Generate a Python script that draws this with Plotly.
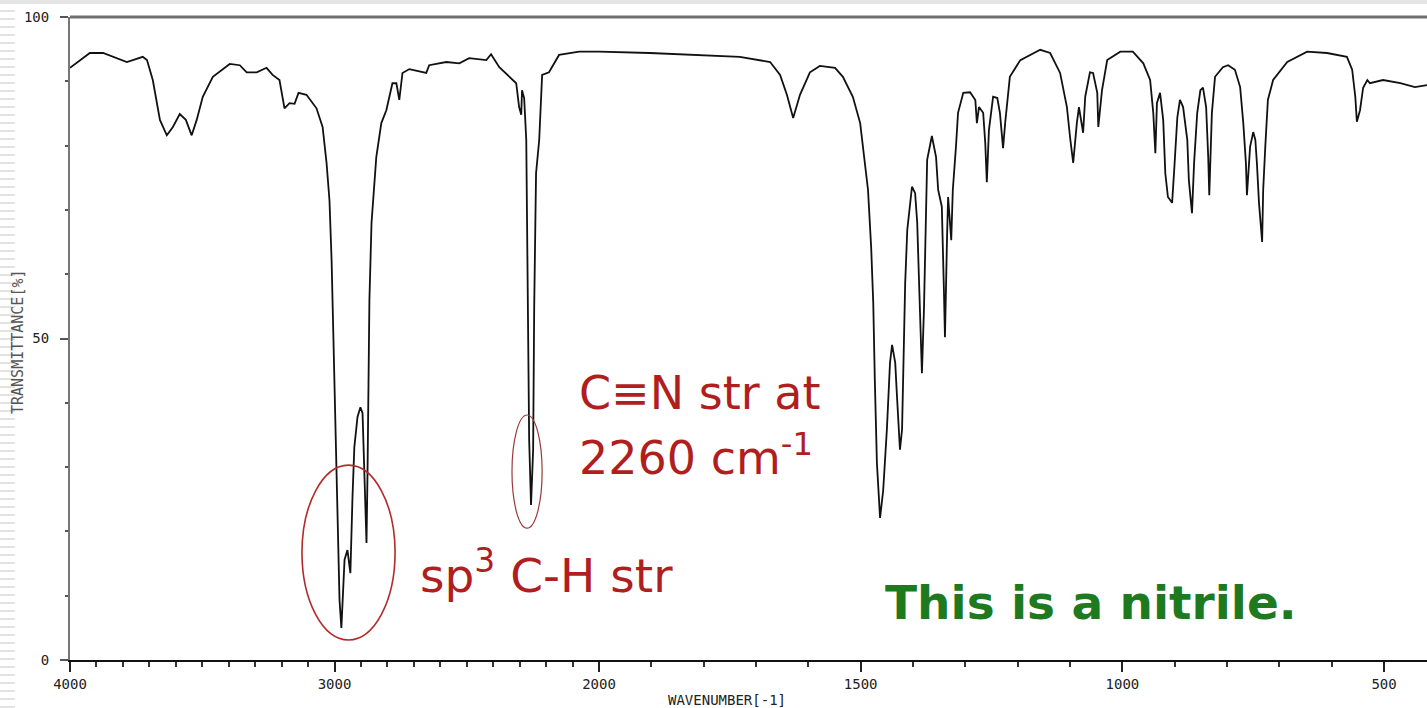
import plotly.graph_objects as go

# ---------------- data ----------------
wavenumber = [
    4000, 3925, 3875, 3785, 3725, 3709, 3687, 3660, 3634, 3611, 3585, 3562, 3540, 3521,
    3498, 3460, 3396, 3358, 3332, 3294, 3257, 3234, 3208, 3196, 3189, 3170, 3151, 3136,
    3106, 3068, 3045, 3030, 3019, 3011, 3004, 2996, 2989, 2981, 2974, 2970, 2962, 2951,
    2940, 2932, 2925, 2913, 2902, 2894, 2887, 2879, 2875, 2872, 2868, 2860, 2842, 2823,
    2804, 2781, 2766, 2755, 2743, 2717, 2653, 2642, 2577, 2528, 2491, 2426, 2408, 2377,
    2313, 2302, 2294, 2291, 2283, 2275, 2272, 2268, 2264, 2257, 2249, 2245, 2238, 2226,
    2215, 2189, 2151, 2075, 2000,
    1903, 1807, 1731, 1673, 1654, 1641, 1629, 1616, 1597, 1578, 1549, 1534, 1515, 1501,
    1492, 1486, 1480, 1476, 1473, 1469, 1463, 1457, 1450, 1444, 1440, 1434, 1431, 1425,
    1421, 1419, 1415, 1411, 1402, 1396, 1392, 1388, 1383, 1379, 1375, 1373, 1364, 1356,
    1352, 1345, 1341, 1339, 1335, 1333, 1327, 1324, 1318, 1314, 1304, 1291, 1281, 1278,
    1274, 1266, 1262, 1259, 1255, 1247, 1239, 1234, 1228, 1224, 1215, 1195, 1157, 1138,
    1119, 1106, 1100, 1094, 1087, 1083, 1075, 1071, 1062, 1056, 1048, 1046, 1039, 1029,
    1004, 980, 960, 947, 941, 937, 934, 928, 922, 918, 913, 905, 901, 895, 890, 884, 876,
    873, 867, 863, 857, 851, 846, 840, 836, 834, 829, 823, 808, 798, 785, 775, 769, 764,
    762, 756, 750, 746, 743, 739, 733, 731, 727, 722, 712, 685, 647, 609, 571, 561, 555,
    552, 546, 540, 532, 527, 502, 469, 441, 418,
]
transmittance = [
    92.1, 94.4, 94.4, 93.0, 93.8, 93.3, 90.2, 84.0, 81.6, 82.9, 84.9, 84.0, 81.6, 84.0,
    87.6, 90.7, 92.7, 92.5, 91.4, 91.4, 92.1, 91.0, 90.2, 87.6, 85.8, 86.6, 86.5, 88.2,
    87.9, 85.8, 82.9, 77.3, 71.5, 62.2, 49.8, 34.2, 21.8, 9.3, 5.0, 8.9, 15.6, 17.1,
    13.5, 25.3, 33.1, 37.8, 39.3, 38.4, 29.1, 18.2, 29.5, 43.5, 56.0, 68.0, 78.2, 83.5,
    85.5, 89.7, 89.7, 87.1, 91.3, 91.9, 91.3, 92.5, 93.0, 92.8, 93.6, 93.3, 94.2, 92.2,
    89.7, 86.0, 84.8, 88.6, 87.4, 80.9, 65.3, 51.3, 34.2, 24.1, 32.7, 54.9, 75.7, 80.9,
    91.0, 91.4, 94.1, 94.6, 94.6,
    94.4, 94.1, 93.8, 93.0, 91.0, 87.9, 84.3, 87.9, 91.4, 92.4, 92.1, 90.7, 87.6, 83.5,
    77.3, 73.1, 64.2, 55.5, 43.5, 30.6, 22.1, 26.4, 35.8, 46.2, 49.0, 46.2, 41.5, 32.7,
    35.8, 45.6, 58.6, 66.9, 73.6, 72.6, 68.0, 57.5, 44.6, 54.9, 69.5, 77.8, 81.5, 78.2,
    73.1, 70.5, 57.5, 50.2, 65.8, 72.0, 65.3, 73.1, 79.8, 85.1, 88.2, 88.3, 87.1, 83.5,
    86.0, 85.1, 80.4, 74.3, 82.4, 87.6, 87.4, 85.1, 79.6, 83.5, 90.7, 93.3, 94.9, 94.4,
    91.3, 86.0, 81.3, 77.3, 83.5, 86.0, 82.0, 87.6, 91.4, 91.3, 88.2, 82.9, 88.6, 93.3,
    94.6, 94.6, 92.8, 90.2, 85.1, 78.8, 86.6, 88.2, 84.0, 75.7, 72.0, 71.1, 76.2, 84.4,
    87.1, 86.0, 80.9, 74.6, 69.5, 77.3, 85.1, 88.6, 89.0, 86.0, 78.2, 72.3, 85.1, 90.7,
    92.2, 92.5, 91.8, 89.1, 83.5, 77.3, 72.3, 79.8, 82.1, 80.9, 77.3, 71.1, 65.0, 73.1,
    79.8, 87.1, 90.2, 93.0, 94.6, 94.4, 93.8, 91.8, 87.6, 83.7, 85.5, 89.0, 90.2, 89.7,
    90.2, 89.7, 89.1, 89.4,
]

left_range = [4000, 2000]
right_range = [2000, 418]
left_ticks = [4000, 3000]
left_ticktext = ["4000", "3000"]
right_ticks = [2000, 1500, 1000, 500]
right_ticktext = ["2000", "1500", "1000", "500"]
y_ticks = [0, 50, 100]
y_ticktext = ["0", "50", "100"]

# annotation positions (data units)
ch_ellipse = dict(x0=3123, x1=2771, y0=3.1, y1=30.3)
cn_ellipse = dict(x0=2329, x1=2215, y0=20.5, y1=38.1)

W, H = 1427, 708
ML, MR, MT, MB = 70, 0, 17, 48
PW = W - ML - MR
PH = H - MT - MB
split = (599 - ML) / PW

tick_font = dict(family="DejaVu Sans Mono", size=14, color="#222")

fig = go.Figure()
for xa in ["x", "x2"]:
    fig.add_trace(go.Scatter(
        x=wavenumber, y=transmittance, xaxis=xa, yaxis="y", mode="lines",
        line=dict(color="#111111", width=1.8), showlegend=False, hoverinfo="skip"))

common_x = dict(showline=True, linecolor="#111", linewidth=2, ticks="outside",
                ticklen=10, tickwidth=1.5, tickcolor="#222", showgrid=False,
                zeroline=False, anchor="y", tickfont=tick_font, fixedrange=True)

fig.update_layout(
    width=W, height=H,
    margin=dict(l=ML, r=MR, t=MT, b=MB, pad=0),
    paper_bgcolor="white", plot_bgcolor="white",
    xaxis=dict(domain=[0, split], range=left_range, tickmode="array",
               tickvals=left_ticks, ticktext=left_ticktext,
               minor=dict(dtick=100, tick0=0, ticks="outside", ticklen=5,
                          tickwidth=1.5, tickcolor="#333"),
               **common_x),
    xaxis2=dict(domain=[split, 1], range=right_range, tickmode="array",
                tickvals=right_ticks, ticktext=right_ticktext,
                minor=dict(dtick=100, tick0=0, ticks="outside", ticklen=5,
                           tickwidth=1.5, tickcolor="#333"),
                **common_x),
    yaxis=dict(range=[0, 100], domain=[0, 1], showline=True, linecolor="#777",
               linewidth=2, ticks="outside", ticklen=8, tickwidth=1.5,
               tickcolor="#555", tickmode="array", tickvals=y_ticks,
               ticktext=y_ticktext, ticklabelstandoff=8,
               minor=dict(dtick=10, tick0=0, ticks="outside", ticklen=3,
                          tickwidth=1.5, tickcolor="#555"),
               showgrid=False, zeroline=False, tickfont=tick_font,
               fixedrange=True),
)

shapes = []
# decorative slide background: stripes on the left edge and band on top
for py in range(3, H, 8):
    yp = (H - MB - py) / PH
    shapes.append(dict(type="line", xref="paper", yref="paper",
                       x0=(0 - ML) / PW, x1=(15 - ML) / PW, y0=yp, y1=yp,
                       line=dict(color="#e2e2e2", width=2), layer="below"))
shapes.append(dict(type="rect", xref="paper", yref="paper",
                   x0=-ML / PW, x1=1, y0=(H - MB - 0) / PH, y1=(H - MB - 4) / PH,
                   fillcolor="#e4e4e4", line=dict(width=0), layer="below"))
# top frame line
shapes.append(dict(type="line", xref="paper", yref="paper", x0=0, x1=1, y0=1, y1=1,
                   line=dict(color="#707070", width=3)))
# red ellipses
shapes.append(dict(type="circle", xref="x", yref="y", **ch_ellipse,
                   line=dict(color="#b22a2a", width=1.6)))
shapes.append(dict(type="circle", xref="x", yref="y", **cn_ellipse,
                   line=dict(color="#9a3a3a", width=1.2)))
fig.update_layout(shapes=shapes)

red = "#b01e1e"
green = "#1e7a1e"
ann = [
    dict(x=2083, y=41.5, xref="x", yref="y", text="C≡N str at", showarrow=False,
         xanchor="left", yanchor="middle",
         font=dict(family="DejaVu Sans", size=46, color=red)),
    dict(x=2083, y=31.9, xref="x", yref="y", text="2260 cm<sup>-1</sup>",
         showarrow=False, xanchor="left", yanchor="middle",
         font=dict(family="DejaVu Sans", size=46, color=red)),
    dict(x=2684, y=13.7, xref="x", yref="y", text="sp<sup>3</sup> C-H str",
         showarrow=False, xanchor="left", yanchor="middle",
         font=dict(family="DejaVu Sans", size=47, color=red)),
    dict(x=1457, y=9.0, xref="x2", yref="y", text="<b>This is a nitrile.</b>",
         showarrow=False, xanchor="left", yanchor="middle",
         font=dict(family="DejaVu Sans", size=47, color=green)),
    dict(x=(727 - ML) / PW, y=(H - MB - 700) / PH, xref="paper", yref="paper",
         text="WAVENUMBER[-1]", showarrow=False, xanchor="center", yanchor="middle",
         font=dict(family="DejaVu Sans Mono", size=14, color="#222")),
    dict(x=(18 - ML) / PW, y=(H - MB - 342) / PH, xref="paper", yref="paper",
         text="TRANSMITTANCE[%]", showarrow=False, textangle=-90,
         xanchor="center", yanchor="middle",
         font=dict(family="DejaVu Sans Mono", size=15, color="#555")),
]
fig.update_layout(annotations=ann)

fig.write_html("out.html")
